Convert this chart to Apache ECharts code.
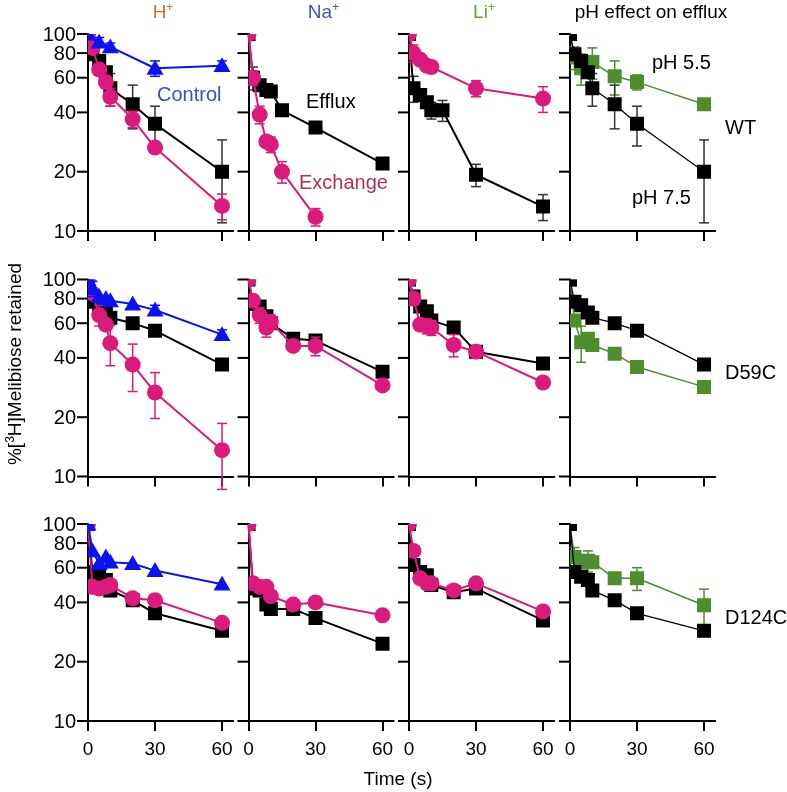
<!DOCTYPE html>
<html><head><meta charset="utf-8">
<script src="https://cdn.jsdelivr.net/npm/echarts@6/dist/echarts.min.js"></script>
<style>html,body{margin:0;padding:0;background:#fff}#c{width:787px;height:792px}</style>
</head><body><div id="c"></div>
<script>
// ---------- data ----------
const timesStd = [0, 2, 5, 8, 10, 20, 30, 60];
const timesWt15 = [0, 2, 5, 8, 10, 15, 30, 60];
const timesWtControl = [0, 5, 10, 30, 60];
const timesWtNaExch = [0, 2, 5, 8, 10, 15, 30];
const timesWtLiExch = [0, 2, 5, 8, 10, 30, 60];
const yTickValues = [10, 20, 40, 60, 80, 100];
const xTickValues = [0, 30, 60];
const columnTitles = ['H', 'Na', 'Li', 'pH effect on efflux'];
const columnTitleSup = ['+', '+', '+', ''];
const rowLabels = ['WT', 'D59C', 'D124C'];

// WT
const wtEffluxH = [100, 79, 73, 64, 53, 44, 35, 20];
const wtEffluxHErr = [0, 0, 0, 4, 10, 11, 8, 9];
const wtExchH = [100, 85, 66, 57, 48, 37, 26.5, 13.4];
const wtExchHErr = [0, 0, 0, 4, 5, 3.5, 0, 2];
const wtControl = [100, 91, 86, 67, 69];
const wtControlErr = [0, 5, 4, 6, 4];
const wtEffluxNa = [100, 60, 55, 52, 51, 41, 33.5, 22];
const wtEffluxNaErr = [0, 8, 0, 3, 0, 0, 0, 0];
const wtExchNa = [100, 60, 39, 28.5, 27.5, 20, 11.8];
const wtExchNaErr = [0, 5, 4, 2, 2.5, 2.5, 1.2];
const wtEffluxLi = [100, 53, 49, 45, 41, 41, 19.3, 13.3];
const wtEffluxLiErr = [0, 8, 0, 0, 4, 5, 2.5, 2];
const wtExchLi = [100, 80, 74, 69, 68, 53, 47];
const wtExchLiErr = [0, 8, 0, 0, 0, 5, 7];
const wtPh55 = [100, 76, 67, 70, 72, 61, 57, 44];
const wtPh55Err = [0, 10, 12, 0, 13, 12, 5, 0];

// D59C
const d59EffluxH = [100, 77, 74, 68, 64, 60, 55, 37];
const d59EffluxHErr = [0, 0, 0, 0, 0, 0, 0, 2];
const d59ExchH = [100, 85, 66, 59, 47.5, 37, 26.7, 13.6];
const d59ExchHErr = [0, 5, 8, 0, 11, 10, 7, 5];
const d59Control = [100, 90, 82, 80, 78, 75, 70, 52.5];
const d59ControlErr = [0, 8, 0, 0, 0, 0, 4, 3];
const d59EffluxNa = [100, 75, 73, 65, 60, 50, 49, 34];
const d59ExchNa = [100, 78, 66, 57, 61, 46, 46, 29];
const d59ExchNaErr = [0, 0, 6, 6, 5, 0, 5, 0];
const d59EffluxLi = [100, 82, 73, 69, 62, 57, 43, 37.5];
const d59ExchLi = [100, 80, 59, 58, 57, 46.5, 43, 30];
const d59ExchLiErr = [0, 6, 0, 5, 5, 6, 0, 0];
const d59Ph55 = [100, 62, 48, 50, 46.5, 42, 36, 28.5];
const d59Ph55Err = [0, 0, 10, 0, 0, 0, 0, 0];

// D124C
const d124EffluxH = [100, 57, 54, 52, 46, 41, 35.2, 28.7];
const d124ExchH = [100, 48, 47, 48, 49, 42, 41, 31.5];
const d124Control = [100, 73, 63, 68, 64, 63, 58, 49.5];
const d124EffluxNa = [100, 47, 46, 39, 37, 37, 33.3, 24.7];
const d124ExchNa = [100, 50, 48, 48, 43, 39, 40, 34.4];
const d124EffluxLi = [100, 62, 57, 55, 49, 45, 47, 32.4];
const d124ExchLi = [100, 73, 53, 50, 50, 46, 50, 36];
const d124Ph55 = [100, 68, 64, 65, 64, 53, 53, 38.7];
const d124Ph55Err = [0, 8, 0, 8, 0, 0, 7, 8];

// ---------- layout / style ----------
const FONT = '"Liberation Sans", Arial, sans-serif';
const colX = [88, 248.5, 409, 570];
const rowY = [34, 279.5, 524];
const GRID_W = 145.2, GRID_H = 197;
const STYLE = {
  efflux:   {color: '#000000', err: '#333333', symbol: 'rect', size: 14, lw: 2},
  ph75:     {color: '#000000', err: '#333333', symbol: 'rect', size: 14, lw: 1.3},
  exchange: {color: '#dc1a7c', err: '#dc1a7c', symbol: 'circle', size: 16, lw: 2},
  control:  {color: '#0b12f2', err: '#0b12f2', symbol: 'triangle', size: 17, lw: 2},
  ph55:     {color: '#4e8e2e', err: '#4e8e2e', symbol: 'rect', size: 14, lw: 1.5}
};

const panels = [
  [ [['efflux', timesStd, wtEffluxH, wtEffluxHErr], ['exchange', timesStd, wtExchH, wtExchHErr], ['control', timesWtControl, wtControl, wtControlErr]],
    [['efflux', timesWt15, wtEffluxNa, wtEffluxNaErr], ['exchange', timesWtNaExch, wtExchNa, wtExchNaErr]],
    [['efflux', timesWt15, wtEffluxLi, wtEffluxLiErr], ['exchange', timesWtLiExch, wtExchLi, wtExchLiErr]],
    [['ph55', timesStd, wtPh55, wtPh55Err], ['ph75', timesStd, wtEffluxH, wtEffluxHErr]] ],
  [ [['efflux', timesStd, d59EffluxH, d59EffluxHErr], ['exchange', timesStd, d59ExchH, d59ExchHErr], ['control', timesStd, d59Control, d59ControlErr]],
    [['efflux', timesStd, d59EffluxNa, null], ['exchange', timesStd, d59ExchNa, d59ExchNaErr]],
    [['efflux', timesStd, d59EffluxLi, null], ['exchange', timesStd, d59ExchLi, d59ExchLiErr]],
    [['ph55', timesStd, d59Ph55, d59Ph55Err], ['ph75', timesStd, d59EffluxH, d59EffluxHErr]] ],
  [ [['efflux', timesStd, d124EffluxH, null], ['exchange', timesStd, d124ExchH, null], ['control', timesStd, d124Control, null]],
    [['efflux', timesStd, d124EffluxNa, null], ['exchange', timesStd, d124ExchNa, null]],
    [['efflux', timesStd, d124EffluxLi, null], ['exchange', timesStd, d124ExchLi, null]],
    [['ph55', timesStd, d124Ph55, d124Ph55Err], ['ph75', timesStd, d124EffluxH, null]] ]
];

function markerShape(kind, p) {
  const st = STYLE[kind], s = st.size / 2, style = {fill: st.color};
  if (st.symbol === 'rect') return {type: 'rect', shape: {x: p[0] - s, y: p[1] - s, width: 2 * s, height: 2 * s}, style};
  if (st.symbol === 'circle') return {type: 'circle', shape: {cx: p[0], cy: p[1], r: s}, style};
  return {type: 'polygon', shape: {points: [[p[0], p[1] - s], [p[0] + s, p[1] + s * 0.75], [p[0] - s, p[1] + s * 0.75]]}, style};
}
function clipOf(params) {
  const cs = params.coordSys;
  return {type: 'rect', shape: {x: cs.x, y: cs.y, width: cs.width, height: cs.height}};
}

const grid = [], xAxis = [], yAxis = [], series = [];
panels.forEach((row, r) => row.forEach((panel, c) => {
  const gi = grid.length;
  grid.push({left: colX[c], top: rowY[r], width: GRID_W, height: GRID_H, containLabel: false});
  xAxis.push({
    type: 'value', gridIndex: gi, min: 0, max: 65, interval: 30,
    axisLine: {show: true, onZero: false, lineStyle: {color: '#000', width: 2}},
    axisTick: {show: true, length: 10, lineStyle: {color: '#000', width: 2}, customValues: xTickValues},
    axisLabel: {show: r === 2, margin: 19, fontFamily: FONT, fontSize: 19, color: '#000', customValues: xTickValues},
    splitLine: {show: false}
  });
  yAxis.push({
    type: 'log', logBase: 10, gridIndex: gi, min: 10, max: 100,
    axisLine: {show: true, lineStyle: {color: '#000', width: 2}},
    axisTick: {show: false}, axisLabel: {show: false}, splitLine: {show: false}
  });
  series.push({
    type: 'custom', xAxisIndex: gi, yAxisIndex: gi, z: 3, silent: true, animation: false,
    data: yTickValues.map(v => [0, v]), encode: {x: 0, y: 1},
    renderItem: (params, api) => {
      const p = api.coord([api.value(0), api.value(1)]);
      const kids = [{type: 'line', shape: {x1: p[0] - 11, y1: p[1], x2: p[0], y2: p[1]},
                     style: {stroke: '#000', lineWidth: 2}}];
      if (c === 0) kids.push({type: 'text', x: p[0] - 12, y: p[1] + 1,
        style: {text: String(api.value(1)), align: 'right', verticalAlign: 'middle',
                font: '20px ' + FONT, fill: '#000'}});
      return {type: 'group', children: kids};
    }
  });
  panel.forEach(([kind, t, v, e], si) => {
    const st = STYLE[kind];
    const pts = t.map((x, i) => [x, v[i]]);
    if (e) {
      const errData = [];
      t.forEach((x, i) => { if (e[i]) errData.push([x, v[i] - e[i], v[i] + e[i]]); });
      series.push({
        type: 'custom', xAxisIndex: gi, yAxisIndex: gi, z: 4 + si * 3, silent: true, animation: false,
        data: errData, encode: {x: 0, y: [1, 2]},
        renderItem: (params, api) => {
          const a = api.coord([api.value(0), api.value(1)]);
          const b = api.coord([api.value(0), api.value(2)]);
          const s = {stroke: st.err, lineWidth: 1.5};
          return {type: 'group', children: [
            {type: 'line', shape: {x1: a[0], y1: a[1], x2: b[0], y2: b[1]}, style: s},
            {type: 'line', shape: {x1: a[0] - 5, y1: a[1], x2: a[0] + 5, y2: a[1]}, style: s},
            {type: 'line', shape: {x1: b[0] - 5, y1: b[1], x2: b[0] + 5, y2: b[1]}, style: s}
          ]};
        }
      });
    }
    series.push({
      type: 'line', xAxisIndex: gi, yAxisIndex: gi, z: 5 + si * 3,
      data: pts, showSymbol: false, symbol: 'none',
      lineStyle: {color: st.color, width: st.lw},
      emphasis: {disabled: true}, animation: false, silent: true
    });
    series.push({
      type: 'custom', xAxisIndex: gi, yAxisIndex: gi, z: 6 + si * 3, silent: true, animation: false,
      data: pts, encode: {x: 0, y: 1},
      renderItem: (params, api) => {
        const p = api.coord([api.value(0), api.value(1)]);
        return {type: 'group', clipPath: clipOf(params), children: [markerShape(kind, p)]};
      }
    });
  });
}));

// ---------- text ----------
const graphic = [];
const rich = {sup: {fontSize: 12, verticalAlign: 'top', padding: [0, 0, 9, 0]}};
const txt = (text, x, y, opts) => graphic.push(Object.assign({type: 'text', x, y, silent: true,
  style: Object.assign({text, font: '20px ' + FONT, fill: '#000', verticalAlign: 'middle'}, opts || {})}));
const titleColors = ['#c8703c', '#4652a8', '#5ca83c', '#000000'];
columnTitles.forEach((t, c) => {
  const col = titleColors[c];
  graphic.push({type: 'text', x: colX[c] + (c === 3 ? 81 : 75), y: 13, silent: true,
    style: {text: t + (columnTitleSup[c] ? '{sup|' + columnTitleSup[c] + '}' : ''),
            font: '19px ' + FONT, fill: col, align: 'center', verticalAlign: 'middle',
            rich: {sup: {fontSize: 12, fill: col, padding: [0, 0, 10, 0], fontFamily: 'Liberation Sans'}}}});
});
rowLabels.forEach((t, r) => txt(t, 725, rowY[r] + 94, {align: 'left'}));
txt('Control', 157, 95, {fill: '#3a4fc4'});
txt('Efflux', 306, 102);
txt('Exchange', 299, 183, {fill: '#aa3355'});
txt('pH 5.5', 652, 63);
txt('pH 7.5', 632, 198);
txt('Time (s)', 398, 780, {align: 'center', font: '19px ' + FONT});
graphic.push({type: 'text', x: 16, y: 364, rotation: Math.PI / 2, silent: true,
  style: {text: '%[{sup|3}H]Melibiose retained', font: '19px ' + FONT, fill: '#000',
          align: 'center', verticalAlign: 'middle',
          rich: {sup: {fontSize: 12, fill: '#000', padding: [0, 0, 10, 0], fontFamily: 'Liberation Sans'}}}});

const chart = echarts.init(document.getElementById('c'), null, {renderer: 'canvas'});
chart.setOption({animation: false, backgroundColor: '#fff', grid, xAxis, yAxis, series, graphic});
</script></body></html>
